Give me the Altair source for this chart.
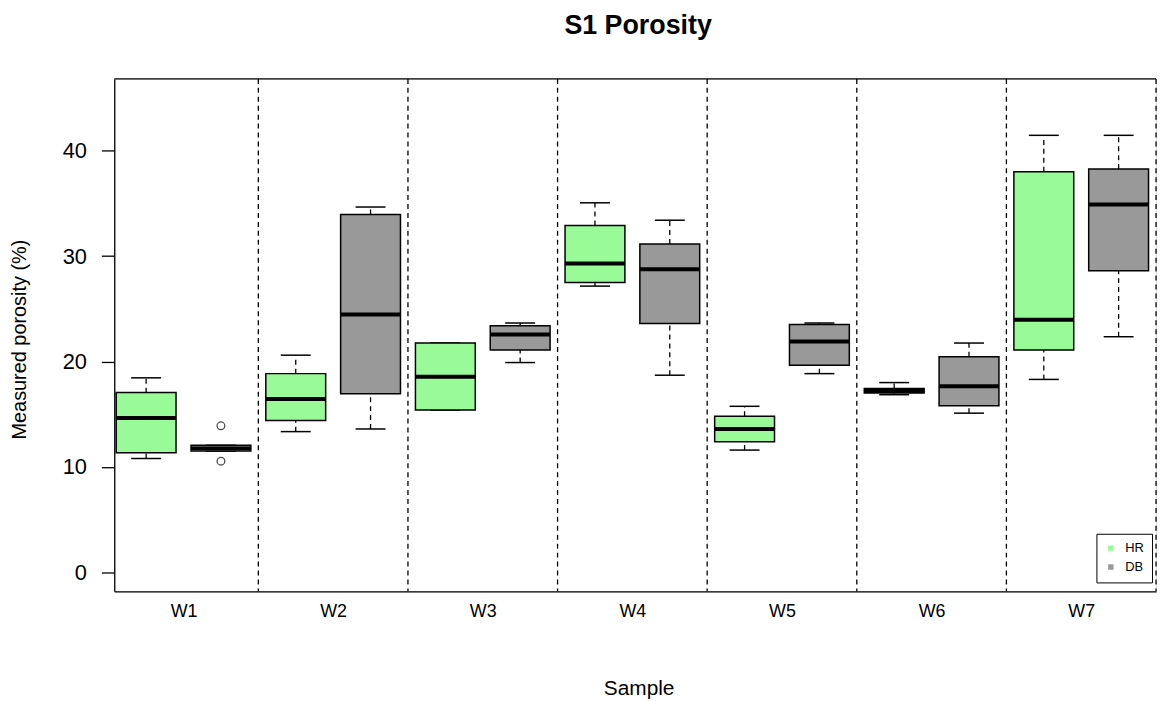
import altair as alt
import pandas as pd

samples = ["W1", "W2", "W3", "W4", "W5", "W6", "W7"]
methods = ["HR", "DB"]

hr_lo = [10.8, 13.35, 15.4, 27.15, 11.6, 16.85, 18.3]
hr_q1 = [11.35, 14.4, 15.4, 27.5, 12.4, 17.0, 21.1]
hr_med = [14.65, 16.45, 18.55, 29.3, 13.6, 17.2, 23.95]
hr_q3 = [17.05, 18.85, 21.75, 32.9, 14.8, 17.45, 38.0]
hr_hi = [18.45, 20.6, 21.75, 35.05, 15.75, 18.0, 41.45]

db_lo = [11.5, 13.6, 19.9, 18.7, 18.85, 15.1, 22.35]
db_q1 = [11.5, 16.95, 21.1, 23.6, 19.65, 15.8, 28.6]
db_med = [11.75, 24.45, 22.55, 28.75, 21.9, 17.65, 34.9]
db_q3 = [12.05, 33.95, 23.4, 31.15, 23.5, 20.45, 38.25]
db_hi = [12.05, 34.65, 23.65, 33.4, 23.65, 21.75, 41.45]

out_sample = ["W1", "W1"]
out_method = ["DB", "DB"]
out_value = [13.9, 10.55]

GREEN = "#98FB98"
GREY = "#999999"
FONT = "Liberation Sans, Arial, sans-serif"
W, H = 1049, 516

stats_src = {
    "HR": (hr_lo, hr_q1, hr_med, hr_q3, hr_hi),
    "DB": (db_lo, db_q1, db_med, db_q3, db_hi),
}
rows = []
for i, s in enumerate(samples):
    for j, m in enumerate(methods):
        lo, q1, med, q3, hi = (arr[i] for arr in stats_src[m])
        pos = 2 * i + 1 + j
        rows.append(dict(sample=s, method=m, pos=pos, xl=pos - 0.4, xr=pos + 0.4,
                         cl=pos - 0.2, cr=pos + 0.2,
                         lo=lo, q1=q1, med=med, q3=q3, hi=hi))
stats = pd.DataFrame(rows)

outl = pd.DataFrame({
    "sample": out_sample, "method": out_method, "value": out_value,
})
outl["pos"] = [2 * samples.index(s) + 1 + methods.index(m) for s, m in zip(out_sample, out_method)]

seps = pd.DataFrame({"sep": [2 * i + 2.5 for i in range(len(samples))]})

xscale = alt.Scale(domain=[0.574, 14.5], nice=False, zero=False)
yscale = alt.Scale(domain=[-1.8, 46.8], nice=False, zero=False)

label_js = "[" + ",".join("'%s'" % s for s in samples) + "]"
xaxis = alt.Axis(
    values=[2 * i + 1.5 for i in range(len(samples))],
    labelExpr=label_js + "[round((datum.value-1.5)/2)]",
    ticks=False, grid=False, domainColor="#000", domainWidth=1.3,
    labelFontSize=18, labelPadding=11, labelColor="#000", labelFont=FONT,
    title="Sample", titleFontSize=21, titleFontWeight="normal", titleFont=FONT,
    titleColor="#000", titleY=104, titleX=528, titleBaseline="alphabetic",
    titleAlign="center",
)
yaxis = alt.Axis(
    values=[0, 10, 20, 30, 40], grid=False, tickSize=13, tickWidth=1.3,
    tickColor="#000", domainColor="#000", domainWidth=1.3,
    labelFontSize=22, labelPadding=15, labelColor="#000", labelFont=FONT,
    title="Measured porosity (%)", titleFontSize=20, titleFontWeight="normal",
    titleFont=FONT, titleColor="#000", titleX=-89, titleY=262,
    titleBaseline="alphabetic", titleAlign="center",
)

legend = alt.Legend(
    orient="none", legendX=989, legendY=458, title=None,
    strokeColor="#000", fillColor="#fff", padding=8,
    symbolType="square", symbolSize=30, symbolStrokeWidth=0,
    labelFontSize=13, labelFont=FONT, labelColor="#000",
    rowPadding=5, labelOffset=8,
)

base = alt.Chart(stats)

separators = alt.Chart(seps).mark_rule(color="#000", strokeWidth=1.3, strokeDash=[5, 4]).encode(
    x=alt.X("sep:Q", scale=xscale, axis=xaxis)
)

whisk_hi = base.mark_rule(color="#000", strokeWidth=1.3, strokeDash=[5, 4]).encode(
    x=alt.X("pos:Q", scale=xscale, axis=xaxis),
    y=alt.Y("q3:Q", scale=yscale, axis=yaxis), y2="hi:Q",
)
whisk_lo = base.mark_rule(color="#000", strokeWidth=1.3, strokeDash=[5, 4]).encode(
    x=alt.X("pos:Q", scale=xscale, axis=xaxis),
    y=alt.Y("lo:Q", scale=yscale, axis=yaxis), y2="q1:Q",
)
cap_hi = base.mark_rule(color="#000", strokeWidth=1.5).encode(
    x=alt.X("cl:Q", scale=xscale, axis=xaxis), x2="cr:Q",
    y=alt.Y("hi:Q", scale=yscale, axis=yaxis),
)
cap_lo = base.mark_rule(color="#000", strokeWidth=1.5).encode(
    x=alt.X("cl:Q", scale=xscale, axis=xaxis), x2="cr:Q",
    y=alt.Y("lo:Q", scale=yscale, axis=yaxis),
)
boxes = base.mark_rect(stroke="#000", strokeWidth=1.5).encode(
    x=alt.X("xl:Q", scale=xscale, axis=xaxis), x2="xr:Q",
    y=alt.Y("q1:Q", scale=yscale, axis=yaxis), y2="q3:Q",
    fill=alt.Fill("method:N", scale=alt.Scale(domain=methods, range=[GREEN, GREY]),
                  legend=legend),
)
medians = base.mark_rule(color="#000", strokeWidth=4, strokeCap="butt").encode(
    x=alt.X("xl:Q", scale=xscale, axis=xaxis), x2="xr:Q",
    y=alt.Y("med:Q", scale=yscale, axis=yaxis),
)
outliers = alt.Chart(outl).mark_point(shape="circle", filled=False, color="#000",
                                      size=60, strokeWidth=1.3).encode(
    x=alt.X("pos:Q", scale=xscale, axis=xaxis),
    y=alt.Y("value:Q", scale=yscale, axis=yaxis),
)
top_frame = alt.Chart(seps.head(1)).mark_rule(color="#000", strokeWidth=1.3).encode(
    x=alt.value(0), x2=alt.value(W), y=alt.value(0)
)

chart = alt.layer(
    separators, whisk_hi, whisk_lo, cap_hi, cap_lo, boxes, medians, outliers, top_frame
).properties(
    width=W, height=H,
    title=alt.Title("S1 Porosity", fontSize=27, font=FONT, fontWeight="bold",
                    anchor="middle", frame="group", offset=39, dx=3, color="#000"),
    autosize=alt.AutoSizeParams(type="none"),
    padding={"left": 107, "top": 69, "right": 3, "bottom": 109},
).configure_view(stroke=None).configure(background="white")

chart.save("out.html", embed_options={"renderer": "svg", "actions": False})
